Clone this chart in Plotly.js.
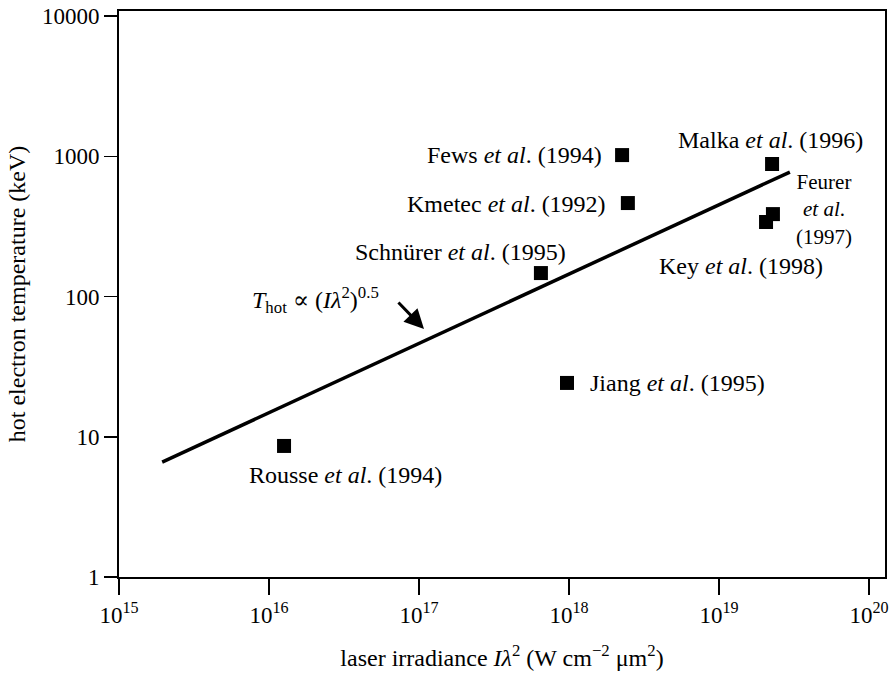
<!DOCTYPE html>
<html>
<head>
<meta charset="utf-8">
<script src="https://cdn.plot.ly/plotly-3.0.1.min.js"></script>
<style>html,body{margin:0;padding:0;background:#fff;}#chart{width:892px;height:675px;}</style>
</head>
<body>
<div id="chart"></div>
<script>
// ---- data ----
const studies = ['Fews', 'Kmetec', 'Schnürer', 'Malka', 'Feurer', 'Key', 'Jiang', 'Rousse'];
const years = ['1994', '1992', '1995', '1996', '1997', '1998', '1995', '1994'];
const irradiance = [2.26e18, 2.47e18, 6.5e17, 2.26e19, 2.29e19, 2.06e19, 9.7e17, 1.26e16]; // W cm^-2 um^2
const hotTemp = [1020, 464, 147, 881, 387, 340, 24.2, 8.6]; // keV
const fitX = [1.94e15, 2.97e19];
const fitY = [6.6, 772];
const xTickVals = [1e15, 1e16, 1e17, 1e18, 1e19, 1e20];
const xTickText = ['10<sup>15</sup>', '10<sup>16</sup>', '10<sup>17</sup>', '10<sup>18</sup>', '10<sup>19</sup>', '10<sup>20</sup>'];
const yTickVals = [1, 10, 100, 1000, 10000];
const yTickText = ['1', '10', '100', '1000', '10000'];

const FONT = "'Liberation Serif', 'Times New Roman', Times, 'DejaVu Serif', serif";
const LBL = 24;

const traces = [
  {
    x: fitX, y: fitY, type: 'scatter', mode: 'lines',
    line: {color: '#000', width: 3.5}, hoverinfo: 'skip', showlegend: false
  },
  {
    x: irradiance, y: hotTemp, type: 'scatter', mode: 'markers',
    text: studies, marker: {symbol: 'square', size: 14, color: '#000'}, showlegend: false
  }
];

function lab(text, px, py, xanchor, size) {
  // px, py in page pixels -> paper coords for the plot area (119..885, 11..577)
  return {
    text: text, xref: 'paper', yref: 'paper',
    x: (px - 119) / 766, y: (577 - py) / 566,
    xanchor: xanchor || 'center', yanchor: 'middle', showarrow: false,
    font: {family: FONT, size: size || LBL, color: '#000'}
  };
}
const ref = (i) => studies[i] + ' <i>et al</i>. (' + years[i] + ')';

const annotations = [
  lab(ref(0), 604, 155, 'right'),
  lab(ref(1), 608, 204, 'right'),
  lab(ref(2), 460, 252),
  lab(ref(3), 770, 140),
  lab(studies[4] + '<br><i>et al</i>.<br>(' + years[4] + ')', 824, 210, 'center', 21),
  lab(ref(5), 741, 266),
  lab(ref(6), 588, 383, 'left'),
  lab(ref(7), 345, 475),
  lab('<i>T</i><sub>hot</sub> ∝ (<i>Iλ</i><sup>2</sup>)<sup>0.5</sup>', 250, 300, 'left'),
  {
    text: '', xref: 'paper', yref: 'paper',
    x: (424 - 119) / 766, y: (577 - 329) / 566,
    ax: -27, ay: -28, showarrow: true,
    arrowhead: 2, arrowsize: 1.3, arrowwidth: 3, arrowcolor: '#000'
  }
];

const layout = {
  width: 892, height: 675,
  margin: {l: 119, r: 7, t: 11, b: 98},
  paper_bgcolor: '#fff', plot_bgcolor: '#fff',
  font: {family: FONT, color: '#000', size: 23},
  showlegend: false,
  xaxis: {
    type: 'log', range: [15, 20.107], autorange: false,
    tickvals: xTickVals, ticktext: xTickText,
    ticks: 'outside', ticklen: 16, tickwidth: 1.5, tickcolor: '#000',
    showline: true, linecolor: '#000', linewidth: 2, mirror: true,
    showgrid: false, zeroline: false,
    tickfont: {family: FONT, size: 23, color: '#000'},
    title: {text: 'laser irradiance <i>Iλ</i><sup>2</sup> (W cm<sup>−2</sup> μm<sup>2</sup>)',
            font: {family: FONT, size: 24, color: '#000'}, standoff: 23}
  },
  yaxis: {
    type: 'log', range: [0, 4.036], autorange: false,
    tickvals: yTickVals, ticktext: yTickText,
    ticks: 'outside', ticklen: 13, tickwidth: 1.5, tickcolor: '#000',
    showline: true, linecolor: '#000', linewidth: 2, mirror: true,
    showgrid: false, zeroline: false,
    tickfont: {family: FONT, size: 23, color: '#000'},
    title: {text: 'hot electron temperature (keV)',
            font: {family: FONT, size: 24, color: '#000'}, standoff: 10}
  },
  annotations: annotations
};

Plotly.newPlot('chart', traces, layout, {displayModeBar: false, staticPlot: true});
</script>
</body>
</html>
